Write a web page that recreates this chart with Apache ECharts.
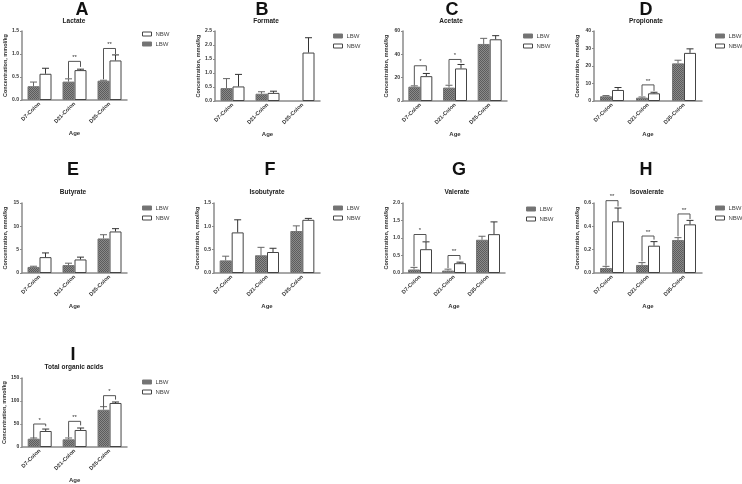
<!DOCTYPE html>
<html lang="en">
<head>
  <meta charset="UTF-8">
  <title>Organic acids by age</title>
  <script src="https://cdn.jsdelivr.net/npm/echarts@6/dist/echarts.min.js"></script>
  <style>
    html, body { margin: 0; padding: 0; background: #fff; }
    #main { width: 742px; height: 484px; }
  </style>
</head>
<body>
  <div id="main"></div>

  <script>
  // ---- data ----
  const categories = ['D7-Colon', 'D21-Colon', 'D35-Colon'];
  const panelLetters = ['A', 'B', 'C', 'D', 'E', 'F', 'G', 'H', 'I'];
  const panelTitles = ['Lactate', 'Formate', 'Acetate', 'Propionate', 'Butyrate',
    'Isobutyrate', 'Valerate', 'Isovalerate', 'Total organic acids'];

  // y axis tick labels: max and step per panel
  const yMaxes = [1.5, 2.5, 60, 40, 15, 1.5, 2.0, 0.6, 150];
  const ySteps = [0.5, 0.5, 20, 10, 5, 0.5, 0.5, 0.2, 50];
  const yDecimals = [1, 1, 0, 0, 0, 1, 1, 1, 0];

  // means and top of error bar (mean + SEM)
  const lactateLBW = [0.30, 0.40, 0.42];
  const lactateLBWTop = [0.39, 0.46, 0.43];
  const lactateNBW = [0.57, 0.65, 0.86];
  const lactateNBWTop = [0.69, 0.67, 0.98];

  const formateLBW = [0.46, 0.26, null];
  const formateLBWTop = [0.80, 0.33, null];
  const formateNBW = [0.52, 0.29, 1.73];
  const formateNBWTop = [0.95, 0.35, 2.26];

  const acetateLBW = [12.3, 11.5, 48.9];
  const acetateLBWTop = [13.0, 13.5, 53.7];
  const acetateNBW = [21.3, 27.9, 52.9];
  const acetateNBWTop = [23.6, 31.3, 56.0];

  const propionateLBW = [2.7, 1.9, 21.5];
  const propionateLBWTop = [3.1, 2.3, 23.3];
  const propionateNBW = [6.3, 4.4, 27.5];
  const propionateNBWTop = [7.7, 5.0, 29.8];

  const butyrateLBW = [1.3, 1.7, 7.4];
  const butyrateLBWTop = [1.45, 2.1, 8.2];
  const butyrateNBW = [3.4, 2.9, 8.9];
  const butyrateNBWTop = [4.3, 3.4, 9.5];

  const isobutyrateLBW = [0.27, 0.38, 0.90];
  const isobutyrateLBWTop = [0.36, 0.55, 1.01];
  const isobutyrateNBW = [0.87, 0.45, 1.14];
  const isobutyrateNBWTop = [1.14, 0.53, 1.17];

  const valerateLBW = [0.10, 0.07, 0.95];
  const valerateLBWTop = [0.16, 0.11, 1.05];
  const valerateNBW = [0.68, 0.28, 1.11];
  const valerateNBWTop = [0.89, 0.31, 1.46];

  const isovalerateLBW = [0.043, 0.069, 0.283];
  const isovalerateLBWTop = [0.057, 0.089, 0.303];
  const isovalerateNBW = [0.443, 0.234, 0.417];
  const isovalerateNBWTop = [0.557, 0.269, 0.451];

  const totalLBW = [18.0, 16.7, 81.0];
  const totalLBWTop = [19.6, 19.6, 87.7];
  const totalNBW = [34.8, 37.0, 95.7];
  const totalNBWTop = [39.0, 41.3, 97.8];

  // significance brackets: [category, left leg bottom, bracket top, right leg bottom, stars]
  const lactateSig = [[1, 0.47, 0.84, 0.72, 2], [2, 0.45, 1.12, 1.0, 2]];
  const formateSig = [];
  const acetateSig = [[0, 13.5, 30.2, 25.9, 1], [1, 14.0, 35.6, 32.8, 1]];
  const propionateSig = [[1, 2.9, 9.2, 5.8, 2]];
  const butyrateSig = [];
  const isobutyrateSig = [];
  const valerateSig = [[0, 0.19, 1.10, 0.90, 1], [1, 0.14, 0.50, 0.38, 2]];
  const isovalerateSig = [[0, 0.063, 0.62, 0.57, 2], [1, 0.10, 0.317, 0.286, 2], [2, 0.314, 0.506, 0.463, 2]];
  const totalSig = [[0, 19.6, 50, 45, 1], [1, 21, 55.8, 47, 2], [2, 86, 111.6, 103, 1]];

  const lbwMeans = [lactateLBW, formateLBW, acetateLBW, propionateLBW, butyrateLBW,
    isobutyrateLBW, valerateLBW, isovalerateLBW, totalLBW];
  const lbwTops = [lactateLBWTop, formateLBWTop, acetateLBWTop, propionateLBWTop, butyrateLBWTop,
    isobutyrateLBWTop, valerateLBWTop, isovalerateLBWTop, totalLBWTop];
  const nbwMeans = [lactateNBW, formateNBW, acetateNBW, propionateNBW, butyrateNBW,
    isobutyrateNBW, valerateNBW, isovalerateNBW, totalNBW];
  const nbwTops = [lactateNBWTop, formateNBWTop, acetateNBWTop, propionateNBWTop, butyrateNBWTop,
    isobutyrateNBWTop, valerateNBWTop, isovalerateNBWTop, totalNBWTop];
  const sigs = [lactateSig, formateSig, acetateSig, propionateSig, butyrateSig,
    isobutyrateSig, valerateSig, isovalerateSig, totalSig];

  // ---- layout ----
  const gridLeft = [22, 215, 403, 594, 22, 214, 403, 594, 22];
  const gridTop = [31, 31, 31, 31, 203, 203, 203, 203, 378];
  const gridWidth = [105, 105, 104, 108, 105, 106, 102, 108, 105];
  const gridHeight = [69, 70, 70, 70, 70, 70, 70, 70, 69];
  const letterPos = [[82, 10], [262, 10], [452, 10], [646, 10], [73, 170], [270, 170], [459, 170], [646, 170], [73, 355]];
  const titlePos = [[74, 21], [266, 21], [451, 21], [646, 21], [73, 192], [267, 192], [457, 192], [647, 192], [74, 367]];
  const legendPos = [[142, 31], [333, 33], [523, 33], [715, 33], [142, 205], [333, 205], [526, 206], [715, 205], [142, 379]];

  const FONT = 'Liberation Sans, Arial, sans-serif';
  const BAR_W = 12;
  const axisGrey = '#8a8a8a';

  // checkered fill for LBW bars
  const pat = document.createElement('canvas');
  pat.width = 2; pat.height = 2;
  const pctx = pat.getContext('2d');
  pctx.fillStyle = '#8a8a8a'; pctx.fillRect(0, 0, 2, 2);
  pctx.fillStyle = '#5c5c5c'; pctx.fillRect(0, 0, 1, 1); pctx.fillRect(1, 1, 1, 1);
  const lbwFill = { image: pat, repeat: 'repeat' };

  function errorRender(offset, color) {
    return function (params, api) {
      const base = api.coord([api.value(0), api.value(1)]);
      const top = api.coord([api.value(0), api.value(2)]);
      const cx = base[0] + offset;
      const style = { stroke: color, lineWidth: 1 };
      return {
        type: 'group',
        children: [
          { type: 'line', shape: { x1: cx, y1: base[1], x2: cx, y2: top[1] }, style },
          { type: 'line', shape: { x1: cx - 3.5, y1: top[1], x2: cx + 3.5, y2: top[1] }, style }
        ]
      };
    };
  }

  function sigRender(params, api) {
    const c = api.value(0);
    const l = api.coord([c, api.value(1)]);
    const t = api.coord([c, api.value(2)]);
    const r = api.coord([c, api.value(3)]);
    const xl = l[0] - BAR_W / 2, xr = l[0] + BAR_W / 2;
    const stars = '*'.repeat(api.value(4));
    return {
      type: 'group',
      children: [
        { type: 'polyline', shape: { points: [[xl, l[1]], [xl, t[1]], [xr, t[1]], [xr, r[1]]] },
          style: { stroke: '#555', lineWidth: 1, fill: null } },
        { type: 'text', style: { x: l[0], y: t[1] - 1, text: stars, textAlign: 'center', textVerticalAlign: 'bottom',
          fill: '#333', font: '6px ' + FONT } }
      ]
    };
  }

  const grid = [], xAxis = [], yAxis = [], series = [], legend = [], graphic = [];

  for (let i = 0; i < 9; i++) {
    grid.push({ left: gridLeft[i], top: gridTop[i], width: gridWidth[i], height: gridHeight[i] });
    xAxis.push({
      type: 'category', gridIndex: i, data: categories,
      name: 'Age', nameLocation: 'middle', nameGap: 30,
      nameTextStyle: { fontFamily: FONT, fontSize: 6, fontWeight: 'bold', color: '#333' },
      axisLine: { lineStyle: { color: axisGrey, width: 1.5 } },
      axisTick: { show: false },
      axisLabel: { rotate: 45, fontFamily: FONT, fontSize: 5.5, color: '#333', margin: 3, fontWeight: 'bold' }
    });
    const dec = yDecimals[i];
    yAxis.push({
      type: 'value', gridIndex: i, min: 0, max: yMaxes[i], interval: ySteps[i],
      name: 'Concentration, mmol/kg', nameLocation: 'middle', nameGap: 14,
      nameTextStyle: { fontFamily: FONT, fontSize: 5.5, fontWeight: 'bold', color: '#333' },
      axisLine: { show: true, lineStyle: { color: axisGrey, width: 1.5 } },
      axisTick: { show: true, length: 2, lineStyle: { color: axisGrey } },
      splitLine: { show: false },
      axisLabel: { fontFamily: FONT, fontSize: 5, color: '#333', margin: 3, fontWeight: 'bold',
        formatter: v => v.toFixed(dec) }
    });
    series.push({
      name: 'LBW', type: 'bar', xAxisIndex: i, yAxisIndex: i, barWidth: BAR_W, barGap: '0%',
      data: lbwMeans[i], itemStyle: { color: lbwFill, borderColor: '#777', borderWidth: 1 }
    });
    series.push({
      name: 'NBW', type: 'bar', xAxisIndex: i, yAxisIndex: i, barWidth: BAR_W, barGap: '0%',
      data: nbwMeans[i], itemStyle: { color: '#fff', borderColor: '#444', borderWidth: 1 }
    });
    const lbwErr = [], nbwErr = [];
    for (let c = 0; c < categories.length; c++) {
      if (lbwMeans[i][c] != null) lbwErr.push([c, lbwMeans[i][c], lbwTops[i][c]]);
      if (nbwMeans[i][c] != null) nbwErr.push([c, nbwMeans[i][c], nbwTops[i][c]]);
    }
    series.push({ type: 'custom', xAxisIndex: i, yAxisIndex: i, data: lbwErr, z: 3, clip: false,
      renderItem: errorRender(-BAR_W / 2, '#666'), silent: true });
    series.push({ type: 'custom', xAxisIndex: i, yAxisIndex: i, data: nbwErr, z: 3, clip: false,
      renderItem: errorRender(BAR_W / 2, '#333'), silent: true });
    if (sigs[i].length) {
      series.push({ type: 'custom', xAxisIndex: i, yAxisIndex: i, data: sigs[i], z: 4, clip: false,
        renderItem: sigRender, silent: true });
    }
    legend.push({
      orient: 'vertical', left: legendPos[i][0], top: legendPos[i][1], padding: 0,
      data: i === 0 ? ['NBW', 'LBW'] : ['LBW', 'NBW'],
      icon: 'rect', itemWidth: 9, itemHeight: 4, itemGap: 4,
      textStyle: { fontFamily: FONT, fontSize: 6, color: '#444', padding: [0, 0, 0, -1] },
      itemStyle: { borderWidth: 1 }
    });
    graphic.push({ type: 'text', x: letterPos[i][0], y: letterPos[i][1],
      style: { text: panelLetters[i], textAlign: 'center', textVerticalAlign: 'middle',
        font: 'bold 18px ' + FONT, fill: '#111' } });
    graphic.push({ type: 'text', x: titlePos[i][0], y: titlePos[i][1],
      style: { text: panelTitles[i], textAlign: 'center', textVerticalAlign: 'middle',
        font: 'bold 6.5px ' + FONT, fill: '#222' } });
  }

  const myChart = echarts.init(document.getElementById('main'));
  myChart.setOption({
    animation: false,
    backgroundColor: '#fff',
    grid, xAxis, yAxis, series, legend, graphic
  });
  </script>
</body>
</html>
